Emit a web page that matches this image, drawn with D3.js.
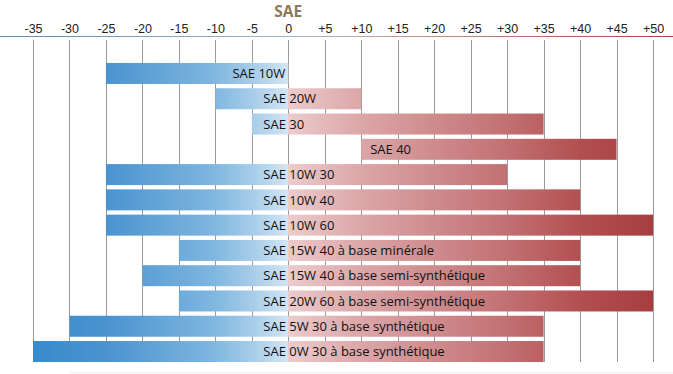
<!DOCTYPE html>
<html>
<head>
<meta charset="utf-8">
<script src="https://cdn.jsdelivr.net/npm/d3@7"></script>
<style>
    body { margin: 0; background: #fff; }
    svg { display: block; font-family: "Open Sans", sans-serif; }
    .tick text { font-size: 12.5px; fill: #222; }
    .bar-label { font-size: 13px; fill: #111; }
    .grid line { stroke: #9a9a9a; stroke-width: 1; }
</style>
</head>
<body>
<svg id="chart" width="673" height="374"></svg>
<script>
// Temperature ranges (deg C) for each SAE grade
const grades = [
    'SAE 10W', 'SAE 20W', 'SAE 30', 'SAE 40', 'SAE 10W 30', 'SAE 10W 40', 'SAE 10W 60',
    'SAE 15W 40 à base minérale', 'SAE 15W 40 à base semi-synthétique',
    'SAE 20W 60 à base semi-synthétique', 'SAE 5W 30 à base synthétique', 'SAE 0W 30 à base synthétique'
];
const minTemp = [-25, -10, -5, 10, -25, -25, -25, -15, -20, -15, -30, -35];
const maxTemp = [0, 10, 35, 45, 30, 40, 50, 40, 40, 50, 35, 35];
const tickValues = [-35, -30, -25, -20, -15, -10, -5, 0, 5, 10, 15, 20, 25, 30, 35, 40, 45, 50];

const rows = grades.map((g, i) => ({ name: g, min: minTemp[i], max: maxTemp[i] }));

const svg = d3.select('#chart');

const x = d3.scaleLinear().domain([-35, 50]).range([33, 653]);
const y = d3.scaleBand().domain(grades).range([58.7, 366.3])
    .paddingInner(0.169).paddingOuter(0.169);

const defs = svg.append('defs');

// Colour follows the temperature itself, so the gradient spans the whole axis
const barGrad = defs.append('linearGradient')
    .attr('id', 'bar-grad')
    .attr('gradientUnits', 'userSpaceOnUse')
    .attr('x1', x(-35)).attr('x2', x(50)).attr('y1', 0).attr('y2', 0);
const stops = [
    [-35, '#398bcb'], [-25, '#4a93cf'], [-10, '#80b7e0'], [-5, '#a6cce9'], [-0.01, '#d2e5f4'],
    [0.01, '#eccbcc'], [10, '#dba6a8'], [30, '#c27072'], [40, '#b24f51'], [50, '#a63e40']
];
stops.forEach(s => {
    barGrad.append('stop')
        .attr('offset', (x(s[0]) - x(-35)) / (x(50) - x(-35)))
        .attr('stop-color', s[1]);
});

const lineGrad = defs.append('linearGradient')
    .attr('id', 'line-grad')
    .attr('gradientUnits', 'userSpaceOnUse')
    .attr('x1', 0).attr('x2', 673).attr('y1', 0).attr('y2', 0);
lineGrad.append('stop').attr('offset', 0).attr('stop-color', '#5d8fae');
lineGrad.append('stop').attr('offset', 0.45).attr('stop-color', '#a9b5c0');
lineGrad.append('stop').attr('offset', 0.55).attr('stop-color', '#c3a39c');
lineGrad.append('stop').attr('offset', 1).attr('stop-color', '#a5483c');

// Title
svg.append('text')
    .attr('x', x(0))
    .attr('y', 16.5)
    .attr('text-anchor', 'middle')
    .style('font-size', '15.5px')
    .style('font-weight', 'bold')
    .style('fill', '#8b7a55')
    .text('SAE');

// Vertical grid lines, behind the bars
svg.append('g')
    .attr('class', 'grid')
    .selectAll('line')
    .data(tickValues)
    .join('line')
    .attr('x1', d => Math.round(x(d)) + 0.5)
    .attr('x2', d => Math.round(x(d)) + 0.5)
    .attr('y1', 40)
    .attr('y2', 362);

// Top axis labels
const axis = d3.axisTop(x)
    .tickValues(tickValues)
    .tickSize(0)
    .tickPadding(0)
    .tickFormat(d => d > 0 ? '+' + d : String(d));
const axisG = svg.append('g')
    .attr('transform', 'translate(0,33)')
    .call(axis);
axisG.select('.domain').remove();
axisG.selectAll('text').attr('dy', 0);

svg.append('line')
    .attr('x1', 0).attr('x2', 673)
    .attr('y1', 36.5).attr('y2', 36.5)
    .attr('stroke', 'url(#line-grad)')
    .attr('stroke-width', 1);

// Bars
svg.append('g')
    .selectAll('rect')
    .data(rows)
    .join('rect')
    .attr('x', d => x(d.min))
    .attr('y', d => y(d.name))
    .attr('width', d => x(d.max) - x(d.min))
    .attr('height', y.bandwidth())
    .attr('fill', 'url(#bar-grad)');

// Labels: "SAE" sits just left of zero unless the bar lies on one side only
svg.append('g')
    .selectAll('text')
    .data(rows)
    .join('text')
    .attr('class', 'bar-label')
    .attr('x', d => d.max <= 0 ? x(0) - 3 : (d.min > 0 ? x(d.min) + 9 : x(0) - 25))
    .attr('y', d => y(d.name) + y.bandwidth() / 2)
    .attr('dy', '0.36em')
    .attr('text-anchor', d => d.max <= 0 ? 'end' : 'start')
    .text(d => d.name);

// faint baseline at the very bottom
svg.append('line')
    .attr('x1', 70).attr('x2', 673)
    .attr('y1', 372.5).attr('y2', 372.5)
    .attr('stroke', '#ececec');
</script>
</body>
</html>
